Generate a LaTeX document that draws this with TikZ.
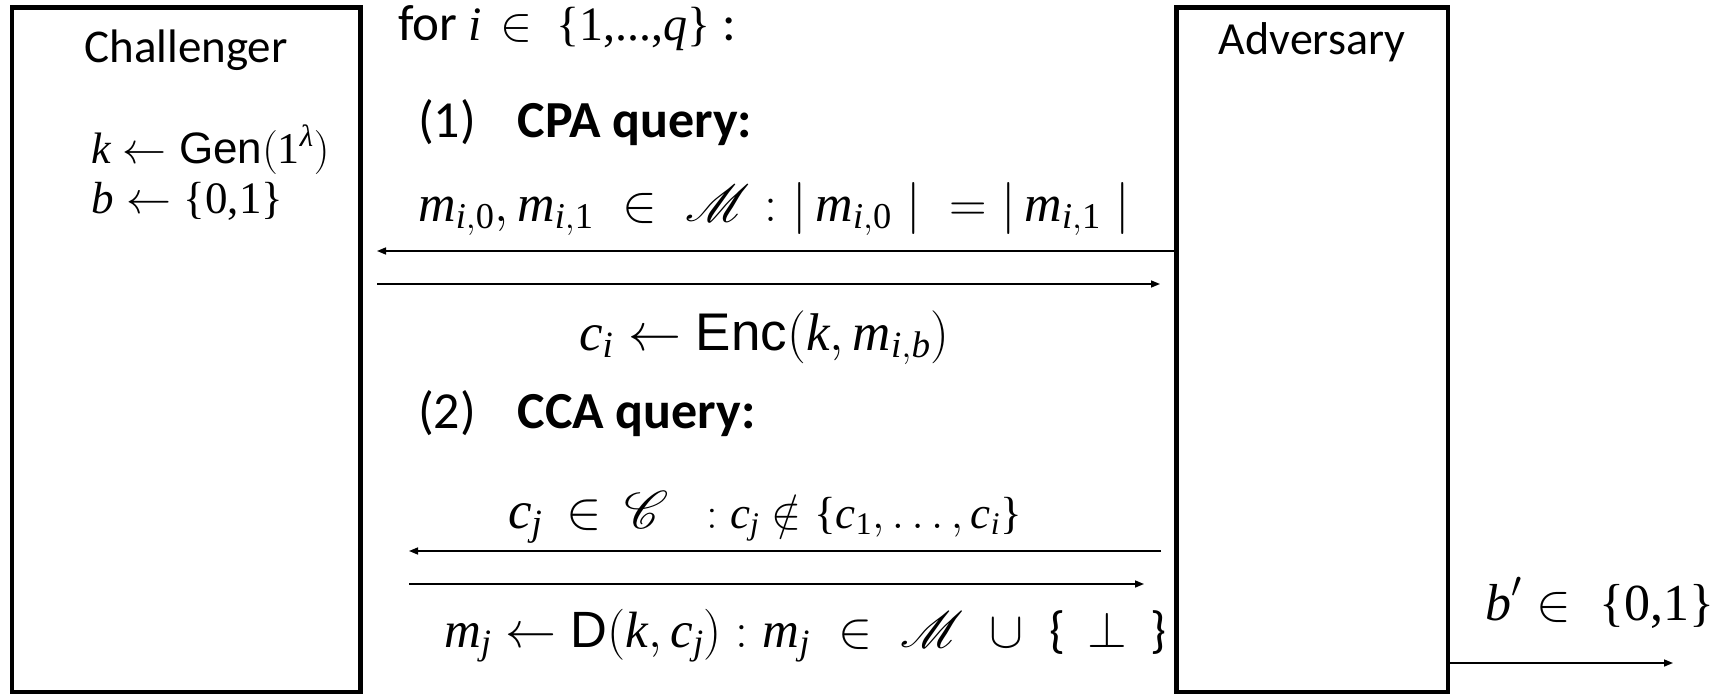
\RequirePackage{fix-cm}
\documentclass[tikz,border=0pt]{standalone}
\usepackage{amsmath}
\usepackage{mathrsfs}
% scalable script letters at every size
\DeclareFontFamily{U}{rsfs}{\skewchar\font127 }
\DeclareFontShape{U}{rsfs}{m}{n}{<-6> rsfs5 <6-8> rsfs7 <8-> rsfs10}{}
\usepackage{fontspec}
\setmainfont{Carlito}
\newfontfamily\tms{Liberation Serif}
\newfontface\tmi{Liberation Serif Italic}
\newfontfamily\ars{Liberation Sans}
\usetikzlibrary{arrows.meta}

% italic serif variable, upright serif digits, sans function names
\newcommand\V[1]{\text{\tmi #1}}
\newcommand\N[1]{\text{\tms #1}}
\newcommand\F[1]{\text{\ars #1}}
\newcommand\fs[1]{\fontsize{#1}{#1}\selectfont}

\tikzset{
  party/.style={draw, line width=4.5pt, inner sep=0pt, outer sep=0pt, anchor=north west},
  msg/.style={line width=1.5pt, -{Triangle[length=9pt,width=7pt]}},
  txt/.style={inner sep=0pt, anchor=base west},
}

\begin{document}
\begin{tikzpicture}[x=1pt,y=-1pt]
\useasboundingbox (0,0) rectangle (1712,695);

% the two parties
\node[party, minimum width=348.5pt, minimum height=684.5pt] (chal) at (12,7.5) {};
\node[party, minimum width=271.5pt, minimum height=684.5pt] (adv) at (1176.5,7.5) {};
\node[inner sep=0pt, anchor=base] (chalname) at (186,63) {\fs{47}Challenger};
\node[inner sep=0pt, anchor=base] (advname) at (1312,55) {\fs{46}Adversary};

% challenger set-up
\node[txt] (gen) at (91,164) {\fs{44}$\V{k} \leftarrow \F{Gen}(\N{1}^{\V{λ}})$};
\node[txt] (bit) at (91,214) {\fs{45}$\V{b} \leftarrow \N{\{0,1\}}$};

% loop header and queries
\node[txt] (loop) at (398,41) {\fs{51}for\fs{48} $\V{i}\mskip7mu{\in}\mskip9mu\N{\{1,...,}\V{q}\N{\}}$\hspace{0.25em}\fs{51}:};
\node[txt] (cpa) at (418,138) {\fs{52}(1)\hspace{0.8em}\textbf{CPA query:}};
\node[txt] (mreq) at (418,221) {\fs{52}$\V{m}_{\V{i},\N{0}}, \V{m}_{\V{i},\N{1}} \mathrel{\;\in\;} \mathscr{M} : |\,\V{m}_{\V{i},\N{0}}\;| \mathrel{\;=} |\,\V{m}_{\V{i},\N{1}}\;|$};
\node[txt] (cresp) at (579,350) {\fs{53}$\V{c}_{\V{i}} \leftarrow \F{Enc}(\V{k}, \V{m}_{\V{i},\V{b}})$};
\node[txt] (cca) at (418,428) {\fs{52}(2)\hspace{0.8em}\textbf{CCA query:}};
\node[txt] (creq) at (508,528) {\fs{53}$\V{c}_{\V{j}} \mathrel{\,\in\,} \mathscr{C}$\hspace{0.7em}{\fs{45}$: \V{c}_{\V{j}} \notin \N{\{}\V{c}_{\N{1}}, \ldots, \V{c}_{\V{i}}\N{\}}$}};
\node[txt] (mresp) at (444,647) {\fs{51}$\V{m}_{\V{j}} \leftarrow \F{D}(\V{k}, \V{c}_{\V{j}}) : \V{m}_{\V{j}} \mathrel{\;\in\;} \mathscr{M} \mathbin{\;\cup\;} \text{\{}\;\,\bot\;\,\text{\}}$};

% messages
\coordinate (t1) at (377,251);
\coordinate (s2) at (377,284);
\coordinate (t2) at (1160,284);
\coordinate (s3) at (1161,551);
\coordinate (t3) at (409,551);
\coordinate (s4) at (409,584);
\coordinate (t4) at (1144,584);
\draw[msg] (adv.west |- t1) -- (t1);
\draw[msg] (s2) -- (t2);
\draw[msg] (s3) -- (t3);
\draw[msg] (s4) -- (t4);

% output guess
\coordinate (t5) at (1673,663);
\draw[msg] (adv.east |- t5) -- (t5);
\node[txt] (guess) at (1485,620) {\fs{52}$\V{b}' \in\; \N{\{0,1\}}$};
\end{tikzpicture}
\end{document}
